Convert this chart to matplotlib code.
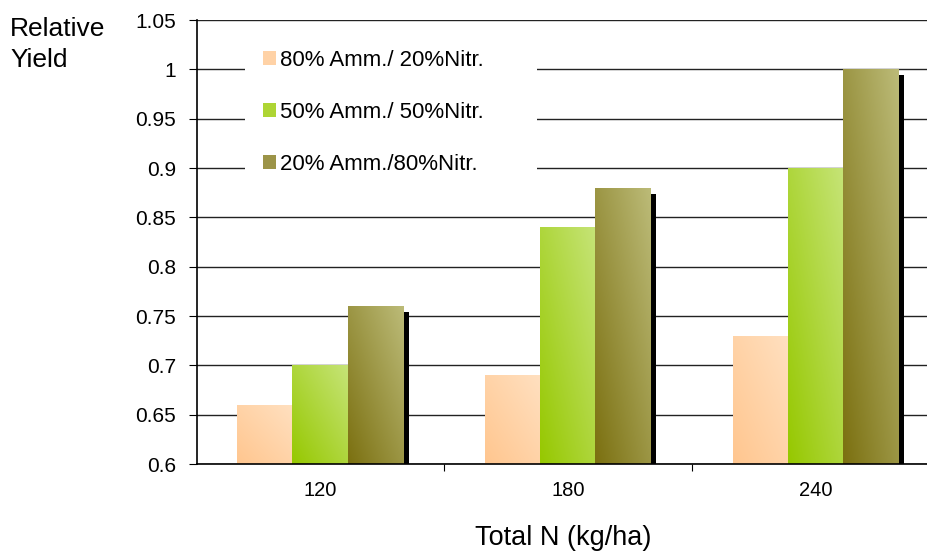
import numpy as np
import matplotlib
matplotlib.use("Agg")
import matplotlib.pyplot as plt
import matplotlib.patches as patches
import matplotlib.patheffects as pe
from matplotlib.colors import LinearSegmentedColormap

plt.rcParams['font.family'] = ['Liberation Sans', 'DejaVu Sans']

# data
nitrogen = ["120", "180", "240"]
series_names = ["80% Amm./ 20%Nitr.", "50% Amm./ 50%Nitr.", "20% Amm./80%Nitr."]
amm80 = [0.66, 0.69, 0.73]
amm50 = [0.70, 0.84, 0.90]
amm20 = [0.76, 0.88, 1.00]
yticks = [0.6, 0.65, 0.7, 0.75, 0.8, 0.85, 0.9, 0.95, 1.0, 1.05]
ytick_labels = ["0.6", "0.65", "0.7", "0.75", "0.8", "0.85", "0.9", "0.95", "1", "1.05"]

# gradient colours (dark bottom-left -> light top-right)
grad_colors = [("#ffc68f", "#ffe0c0"), ("#96c800", "#c6e477"), ("#7b7010", "#bcbb78")]
legend_colors = ["#ffd2a6", "#aed534", "#9c9448"]

fig = plt.figure(figsize=(9.28, 5.54), dpi=100)
ax = fig.add_axes([197/928, 90/554, 731/928, 444/554])

x = np.arange(len(nitrogen))
w = 0.222
ymin = 0.6

ax.set_axisbelow(True)
ax.yaxis.grid(True, color="#222222", lw=1)

for k, vals in enumerate([amm80, amm50, amm20]):
    bars = ax.bar(x + (k - 1) * w, np.array(vals) - ymin, w, bottom=ymin,
                  color=legend_colors[k], zorder=2,
                  path_effects=[pe.SimplePatchShadow(offset=(4.3, -4.3), shadow_rgbFace="black", alpha=1.0),
                                pe.Normal()])
    cmap = LinearSegmentedColormap.from_list("g%d" % k, grad_colors[k])
    u, v = np.meshgrid(np.linspace(0, 1, 60), np.linspace(0, 1, 120))
    grad = (u + v) / 2
    for b in bars:
        x0 = b.get_x()
        x1 = x0 + b.get_width()
        y1 = b.get_y() + b.get_height()
        im = ax.imshow(grad, extent=[x0, x1, ymin, y1], origin="lower", aspect="auto",
                       cmap=cmap, vmin=0, vmax=1, zorder=3, interpolation="bilinear")
        im.set_clip_path(b)

ax.set_xlim(-0.496, 2.452)
ax.set_ylim(0.6, 1.05)
ax.set_yticks(yticks)
ax.set_yticklabels(ytick_labels)
ax.set_xticks([0.5, 1.5])
ax.set_xticklabels([])
ax.set_xticks(x, minor=True)
ax.set_xticklabels(nitrogen, minor=True)
ax.tick_params(axis="x", which="major", length=5, direction="out")
ax.tick_params(axis="x", which="minor", length=0, pad=12, labelsize=14.5)
ax.tick_params(axis="y", length=6, direction="out", pad=9, labelsize=15)
for s in ["top", "right"]:
    ax.spines[s].set_visible(False)
for s in ["left", "bottom"]:
    ax.spines[s].set_linewidth(1.2)
    ax.spines[s].set_zorder(4)

# white legend background
ax.add_patch(patches.Rectangle((48/731, (464-205)/444), 292/731, 180/444,
                               transform=ax.transAxes, facecolor="white",
                               edgecolor="none", zorder=1.5))
handles = [patches.Patch(facecolor=c, edgecolor="none") for c in legend_colors]
ax.legend(handles, series_names, loc="upper left",
          bbox_to_anchor=((263-197)/731, (464-50)/444), frameon=False,
          fontsize=16, handlelength=0.58, handleheight=0.58, handletextpad=0.2,
          labelspacing=1.4, borderpad=0, borderaxespad=0)

fig.text(10/928, 1 - 17/554, "Relative\nYield", fontsize=19, ha="left", va="top", linespacing=1.38)
fig.text(563/928, 1 - 538/554, "Total N (kg/ha)", fontsize=19.5, ha="center", va="center")

fig.savefig("out.png", dpi=100)
